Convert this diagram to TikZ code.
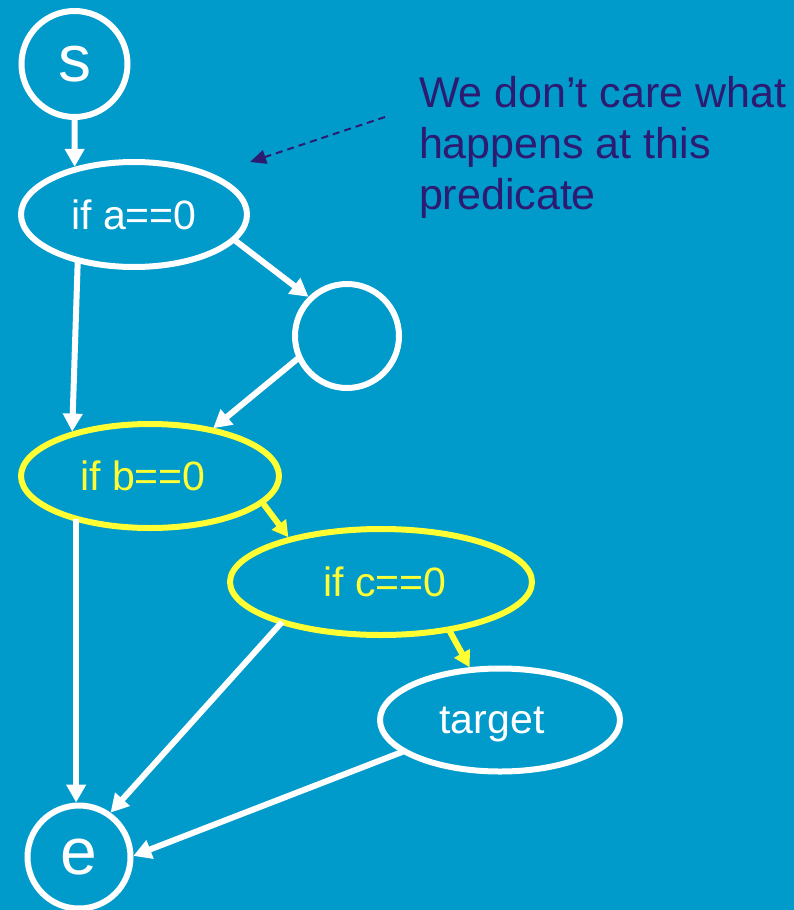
\documentclass[tikz,border=0pt]{standalone}
\usepackage{fontspec}
\setmainfont{Liberation Sans}
\usetikzlibrary{arrows.meta,shapes.geometric}
\definecolor{bgblue}{HTML}{009ACB}
\definecolor{hiyel}{HTML}{FFFF33}
\definecolor{notepurple}{HTML}{2D1B72}
\begin{document}
\begin{tikzpicture}[x=1pt,y=-1pt,
  every node/.style={inner sep=0pt, outer sep=0pt},
  wcirc/.style={circle, draw=white, line width=6pt, text=white, text depth=0pt, font=\fontsize{66}{66}\selectfont},
  wellip/.style={ellipse, draw=white, line width=6pt, text=white, text depth=0pt, font=\fontsize{41}{41}\selectfont},
  yellip/.style={ellipse, draw=hiyel, line width=6pt, text=hiyel, text depth=0pt, font=\fontsize{41}{41}\selectfont},
  warr/.style={draw=white, line width=6pt, shorten >=3pt, -{Triangle[length=18pt,width=19pt]}},
  yarr/.style={draw=hiyel, line width=6pt, shorten >=3pt, -{Triangle[length=16pt,width=17pt]}},
  dasharr/.style={draw=notepurple, line width=2pt, dash pattern=on 7pt off 5pt, -{Triangle[length=16pt,width=14pt]}},
  notetext/.style={text=notepurple, align=left, anchor=north west, font=\fontsize{43}{51}\selectfont}
]
\fill[bgblue] (0,0) rectangle (794,910);
\useasboundingbox (0,0) rectangle (794,910);

\node[wcirc, minimum size=106pt] (s) at (74.5,64) {s};
\node[wellip, minimum width=226pt, minimum height=105pt] (a) at (134,214.5) {if a==0};
\node[wcirc, minimum size=104pt] (m) at (347,336) {};
\node[yellip, minimum width=258pt, minimum height=104pt] (b) at (150,476) {\hspace*{-14pt}if b==0};
\node[yellip, minimum width=302pt, minimum height=106pt] (c) at (381,582) {\hspace*{8pt}if c==0};
\node[wellip, minimum width=240pt, minimum height=103pt] (t) at (500,720) {\hspace*{-16pt}target};
\node[wcirc, minimum size=103pt] (e) at (79,857) {e};

\draw[warr] (s.south) -- (a.143);
\draw[warr] (a.-14) -- (m.134);
\draw[warr] (a.219) -- (b.152);
\draw[warr] (m.204) -- (b.37);
\draw[yarr] (b.-13) -- (c.155);
\draw[warr] (b.210) -- (b.210 |- e.north);
\draw[warr] (c.202) -- (e.55);
\draw[yarr] (c.-35) -- (t.120);
\draw[warr] (t.198) -- (e.east);

\node[notetext] (note) at (419,76) {We don’t care what\\happens at this\\predicate};
\coordinate (dtail) at (385,117);
\coordinate (dtip) at (250,162);
\draw[dasharr] (dtail) -- (dtip);
\end{tikzpicture}
\end{document}
